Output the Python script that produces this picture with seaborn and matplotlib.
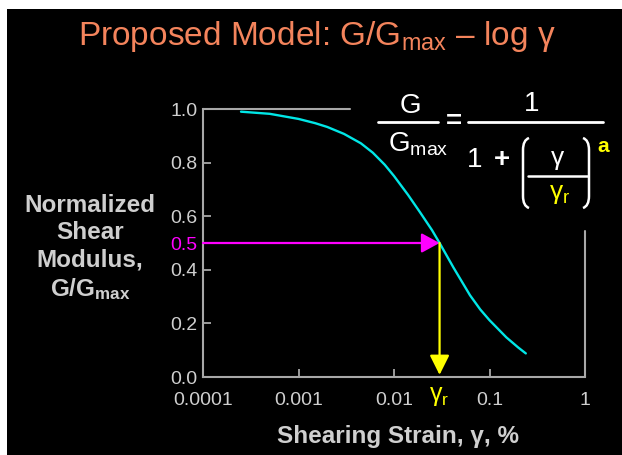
import matplotlib
matplotlib.use("Agg")
import matplotlib.pyplot as plt
import seaborn as sns
from matplotlib.lines import Line2D
from matplotlib.patches import Rectangle, PathPatch, FancyArrowPatch
from matplotlib.path import Path

# Normalized shear modulus curve (strain in %, G/Gmax)
strain = [0.00025, 0.0005, 0.001, 0.0015, 0.002, 0.003, 0.0045, 0.006,
          0.008, 0.01, 0.014, 0.0187, 0.025, 0.03, 0.042, 0.0625, 0.08,
          0.1, 0.15, 0.2, 0.24]
ratio = [0.990, 0.982, 0.963, 0.947, 0.933, 0.907, 0.872, 0.837,
         0.792, 0.750, 0.680, 0.615, 0.548, 0.500, 0.408, 0.305, 0.252,
         0.212, 0.148, 0.110, 0.088]

# Reference strain and the modulus ratio reached there
gamma_r = 0.03
ratio_at_gamma_r = 0.5

x_ticks = [0.0001, 0.001, 0.01, 0.1, 1]
x_tick_labels = ["0.0001", "0.001", "0.01", "0.1", "1"]
y_ticks = [0.0, 0.2, 0.4, 0.5, 0.6, 0.8, 1.0]
y_tick_labels = ["0.0", "0.2", "0.4", "0.5", "0.6", "0.8", "1.0"]

sns.set_theme(style="ticks")
plt.rcParams["font.family"] = ["Liberation Sans", "DejaVu Sans"]
plt.rcParams["mathtext.fontset"] = "custom"
plt.rcParams["mathtext.rm"] = "Liberation Sans"
plt.rcParams["mathtext.bf"] = "Liberation Sans:bold"
plt.rcParams["mathtext.it"] = "Liberation Sans:italic"

W, H = 622, 455
GREY = "#a8a8a8"
TXT = "#cfcfcf"
CYAN = "#00e6e6"
MAGENTA = "#ff00ff"
YELLOW = "#ffff00"
ORANGE = "#f4845c"


def fx(x):
    return x / W


def fy(y):
    return 1 - y / H


fig = plt.figure(figsize=(W / 100, H / 100), dpi=100, facecolor="white")
# dark slide background
fig.add_artist(Rectangle((fx(7), 0), 1 - fx(7), fy(9), transform=fig.transFigure,
                         facecolor="black", edgecolor="none", zorder=-10))

ax = fig.add_axes([fx(203), fy(377), (585 - 203) / W, (377 - 109) / H])
ax.set_facecolor("black")
ax.patch.set_alpha(0)

sns.lineplot(x=strain, y=ratio, ax=ax, color=CYAN, linewidth=1.7, zorder=3)

ax.set_xscale("log")
ax.set_xlim(1e-4, 1)
ax.set_ylim(0, 1)
ax.set_xticks(x_ticks)
ax.set_xticklabels(x_tick_labels)
ax.minorticks_off()
ax.set_yticks(y_ticks)
ax.set_yticklabels(y_tick_labels)
ax.tick_params(axis="both", direction="in", length=6, width=1.3, color=GREY,
               labelcolor=TXT, labelsize=14)
ax.tick_params(axis="x", pad=11)
ax.tick_params(axis="y", pad=4)
for lab in ax.get_yticklabels():
    if lab.get_text() == "0.5":
        lab.set_color(MAGENTA)

for side in ["top", "right"]:
    ax.spines[side].set_visible(False)
for side in ["left", "bottom"]:
    ax.spines[side].set_color(GREY)
    ax.spines[side].set_linewidth(1.5)
# partial frame edges left visible around the equation
ax.plot([0, (350 - 203) / (585 - 203)], [1, 1], transform=ax.transAxes,
        color=GREY, lw=1.5, clip_on=False, zorder=2)
ax.plot([1, 1], [0, (377 - 231) / (377 - 109)], transform=ax.transAxes,
        color=GREY, lw=1.5, clip_on=False, zorder=2)
ax.set_xlabel("")
ax.set_ylabel("")

# arrows marking the reference strain
ax.add_patch(FancyArrowPatch((1e-4, ratio_at_gamma_r), (gamma_r, ratio_at_gamma_r),
                             arrowstyle="-|>,head_length=0.55,head_width=0.3",
                             mutation_scale=20, color=MAGENTA, lw=1.6,
                             shrinkA=0, shrinkB=0, zorder=4, clip_on=False))
ax.add_patch(FancyArrowPatch((gamma_r, ratio_at_gamma_r), (gamma_r, 0.008),
                             arrowstyle="-|>,head_length=0.6,head_width=0.3",
                             mutation_scale=20, color=YELLOW, lw=1.6,
                             shrinkA=0, shrinkB=0, zorder=4, clip_on=False))
ax.text(gamma_r, -0.07, r"γ$_\mathregular{r}$", transform=ax.get_xaxis_transform(),
        ha="center", va="center", color=YELLOW, fontsize=18)

# title
fig.text(fx(317), fy(37), r"Proposed Model: G/G$_\mathregular{max}$ – log γ",
         ha="center", va="center", color=ORANGE, fontsize=24)

# axis labels
for txt, y in [("Normalized", 206), ("Shear", 233), ("Modulus,", 260)]:
    fig.text(fx(90), fy(y), txt, ha="center", va="center", color=TXT,
             fontsize=17.5, fontweight="bold")
fig.text(fx(90), fy(289), r"G/G$_\mathbf{max}$", ha="center", va="center",
         color=TXT, fontsize=17.5, fontweight="bold")
fig.text(fx(398), fy(437), "Shearing Strain, γ, %", ha="center", va="center",
         color=TXT, fontsize=17.5, fontweight="bold")

# equation G/Gmax = 1 / (1 + (γ/γr)^a)
EQ = "white"
fig.text(fx(410), fy(106), "G", ha="center", va="center", color=EQ, fontsize=20)
fig.add_artist(Line2D([fx(378), fx(438)], [fy(122), fy(122)], color=EQ, lw=2,
                      transform=fig.transFigure))
fig.text(fx(388), fy(144), r"G$_\mathregular{max}$", ha="left", va="center",
         color=EQ, fontsize=20)
fig.text(fx(454), fy(122), "=", ha="center", va="center", color=EQ, fontsize=20,
         fontweight="bold")
fig.add_artist(Line2D([fx(468), fx(603)], [fy(122), fy(122)], color=EQ, lw=2,
                      transform=fig.transFigure))
fig.text(fx(532), fy(104), "1", ha="center", va="center", color=EQ, fontsize=20)
fig.text(fx(475), fy(160), "1", ha="center", va="center", color=EQ, fontsize=20)
fig.text(fx(502), fy(160), "+", ha="center", va="center", color=EQ, fontsize=20,
         fontweight="bold")


def paren(x_end, x_side):
    verts = [(x_end, 138), (x_side, 140), (x_side, 150), (x_side, 196),
             (x_side, 206), (x_end, 208)]
    verts = [(fx(a), fy(b)) for a, b in verts]
    codes = [Path.MOVETO, Path.CURVE3, Path.CURVE3, Path.LINETO,
             Path.CURVE3, Path.CURVE3]
    fig.add_artist(PathPatch(Path(verts, codes), facecolor="none", edgecolor=EQ,
                             lw=1.8, transform=fig.transFigure))


paren(529, 523)
paren(583, 589)
fig.add_artist(Line2D([fx(528), fx(588)], [fy(176), fy(176)], color=EQ, lw=1.8,
                      transform=fig.transFigure))
fig.text(fx(558), fy(158), "γ", ha="center", va="center", color=EQ, fontsize=19)
fig.text(fx(560), fy(194), r"γ$_\mathregular{r}$", ha="center", va="center",
         color=YELLOW, fontsize=19)
fig.text(fx(603), fy(146), "a", ha="center", va="center", color=YELLOW,
         fontsize=15, fontweight="bold")

fig.savefig("out.png", dpi=100, facecolor=fig.get_facecolor())
